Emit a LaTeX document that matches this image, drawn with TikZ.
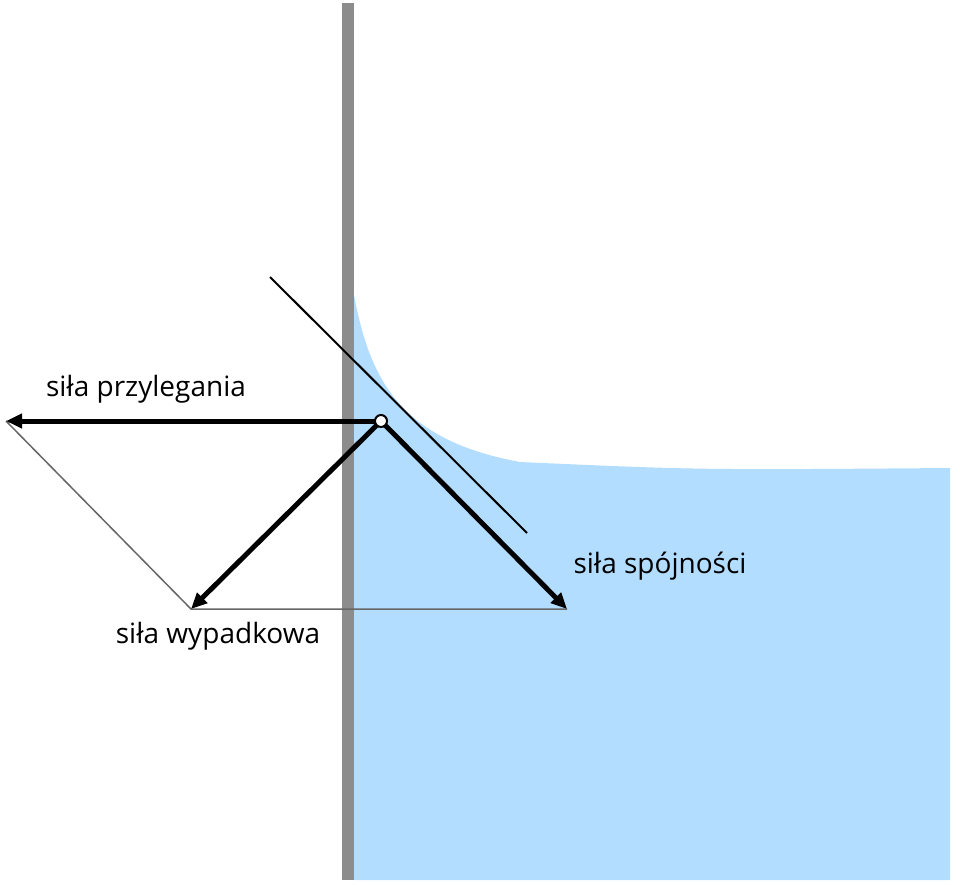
\documentclass[tikz,border=0pt]{standalone}
\usepackage{fontspec}
\setmainfont{Open Sans}
\usetikzlibrary{arrows.meta}
\begin{document}
\begin{tikzpicture}[x=1pt,y=-1pt,
  force/.style={line width=5pt,-{Triangle[length=16pt,width=14pt]}},
  thin/.style={draw=black!60,line width=1.5pt},
  lbl/.style={font=\fontsize{28}{32}\selectfont}]
\useasboundingbox (0,0) rectangle (960,884);
\fill[cyan!40!blue!25!white,fill=blue!45!cyan!30!white] (354,295) .. controls (370,380) and (400,440) .. (520,462) .. controls (700,470) .. (950,468) -- (950,880) -- (354,880) -- cycle;
\fill[black!45] (342,3) rectangle (354,880);
\coordinate (t1) at (270,277);
\coordinate (t2) at (527,533);
\draw[line width=2pt] (t1) -- (t2);
\coordinate (P) at (381,421);
\coordinate (A) at (6,421);
\coordinate (R) at (191,609);
\coordinate (C) at (567,609);
\draw[thin] (A) -- (R) -- (C);
\draw[force] (P) -- (A);
\draw[force] (P) -- (R);
\draw[force] (P) -- (C);
\node[circle,draw,fill=white,line width=2pt,inner sep=0pt,minimum size=12pt] (pt) at (P) {};
\node[lbl] (l1) at (146,389) {siła przylegania};
\node[lbl] (l2) at (660,566) {siła spójności};
\node[lbl] (l3) at (218,636) {siła wypadkowa};
\end{tikzpicture}
\end{document}
